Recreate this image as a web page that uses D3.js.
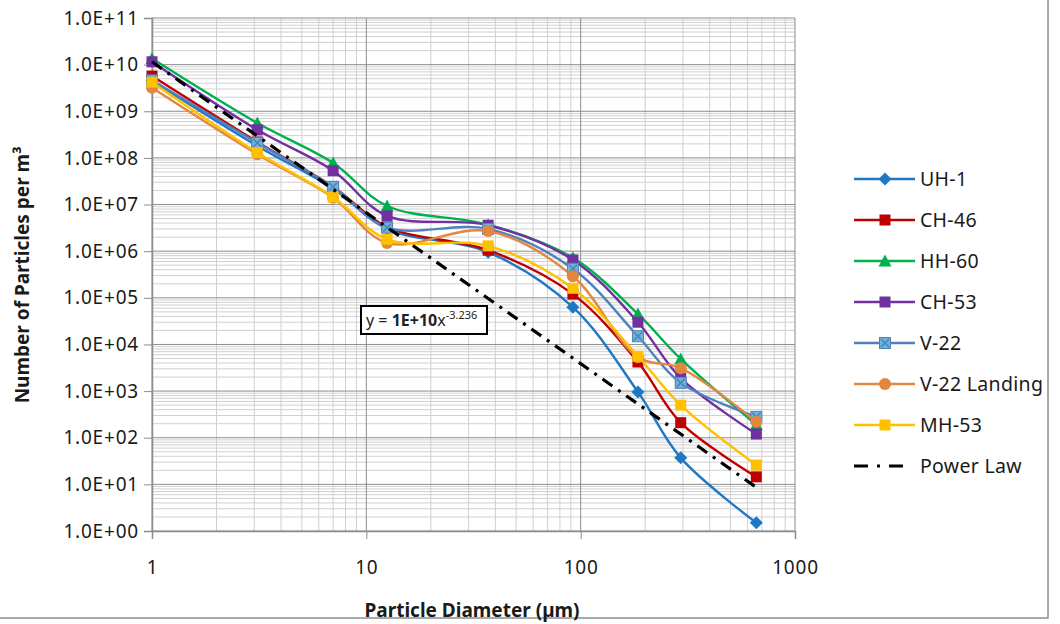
<!DOCTYPE html>
<html>
<head>
<meta charset="utf-8">
<script src="https://cdn.jsdelivr.net/npm/d3@7"></script>
<style>
  body { margin: 0; background: #fff; }
  svg { font-family: "Noto Sans", "Open Sans", sans-serif; }
</style>
</head>
<body>
<div id="chart"></div>
<script>
// particle diameters (um) where the samples were read
const diameters = [1.0, 3.1, 7.0, 12.5, 37, 92, 185, 293, 660];

// number of particles per m3, one array per aircraft
const uh1      = [4.5e9, 1.8e8, 2.2e7, 3.0e6, 0.95e6, 6.3e4, 9.6e2, 37, 1.5];
const ch46     = [5.7e9, 2.2e8, 2.4e7, 3.3e6, 1.05e6, 1.2e5, 4.2e3, 2.1e2, 14.5];
const hh60     = [1.35e10, 5.6e8, 7.8e7, 9.3e6, 3.7e6, 7.2e5, 4.5e4, 4.9e3, 1.9e2];
const ch53     = [1.15e10, 4.0e8, 5.3e7, 5.7e6, 3.6e6, 6.5e5, 3.0e4, 1.9e3, 1.2e2];
const v22      = [4.6e9, 2.1e8, 2.4e7, 3.2e6, 3.0e6, 4.2e5, 1.5e4, 1.5e3, 2.8e2];
const v22land  = [3.2e9, 1.2e8, 1.4e7, 1.5e6, 2.7e6, 2.9e5, 5.3e3, 3.1e3, 2.2e2];
const mh53     = [4.2e9, 1.3e8, 1.45e7, 1.8e6, 1.3e6, 1.6e5, 5.6e3, 5.0e2, 26];

const seriesNames = ["UH-1", "CH-46", "HH-60", "CH-53", "V-22", "V-22 Landing", "MH-53"];
const seriesValues = [uh1, ch46, hh60, ch53, v22, v22land, mh53];

// power law trendline (label shows it rounded: y = 1E+10 x^-3.236)
const powerCoef = 1.15e10;
const powerExp = -3.236;

const xTickLabels = [1, 10, 100, 1000];
const yTickExps = d3.range(0, 12);

const colors = ["#1f78c4", "#c00000", "#00b050", "#7030a0", "#4f81bd", "#e3873f", "#ffc000"];
const markers = ["diamond", "square", "triangle", "square", "squarex", "circle", "square"];

var margin = {top: 18, left: 152},
  width = 643,
  height = 513;

var svg = d3.select("#chart")
  .append("svg")
  .attr("width", 1060)
  .attr("height", 624);

// chart frame
svg.append("rect")
  .attr("x", -2).attr("y", -2)
  .attr("width", 1050).attr("height", 620)
  .attr("fill", "none")
  .attr("stroke", "#8c8c8c")
  .attr("stroke-width", 1.5);

var g = svg.append("g")
  .attr("transform", "translate(" + margin.left + "," + margin.top + ")");

var x = d3.scaleLog().domain([1, 1000]).range([0, width]);
var y = d3.scaleLog().domain([1, 1e11]).range([height, 0]);

// minor gridlines
var xMinor = [], yMinor = [];
for (let e = 0; e < 3; e++) for (let k = 2; k < 10; k++) xMinor.push(k * 10 ** e);
for (let e = 0; e < 11; e++) for (let k = 2; k < 10; k++) yMinor.push(k * 10 ** e);

g.selectAll(".xminor").data(xMinor).enter().append("line")
  .attr("x1", d => x(d)).attr("x2", d => x(d))
  .attr("y1", 0).attr("y2", height)
  .attr("stroke", "#d0d0d0").attr("stroke-width", 1);

g.selectAll(".yminor").data(yMinor).enter().append("line")
  .attr("x1", 0).attr("x2", width)
  .attr("y1", d => y(d)).attr("y2", d => y(d))
  .attr("stroke", "#d0d0d0").attr("stroke-width", 1);

// major gridlines
g.selectAll(".xmajor").data(xTickLabels).enter().append("line")
  .attr("x1", d => x(d)).attr("x2", d => x(d))
  .attr("y1", 0).attr("y2", height)
  .attr("stroke", "#8c8c8c").attr("stroke-width", 1);

g.selectAll(".ymajor").data(yTickExps).enter().append("line")
  .attr("x1", 0).attr("x2", width)
  .attr("y1", d => y(10 ** d)).attr("y2", d => y(10 ** d))
  .attr("stroke", "#8c8c8c").attr("stroke-width", 1);

// axes
var yAxis = d3.axisLeft(y)
  .tickValues(yTickExps.map(d => 10 ** d))
  .tickSize(8)
  .tickPadding(5)
  .tickFormat(d => "1.0E+" + String(Math.round(Math.log10(d))).padStart(2, "0"));

var xAxis = d3.axisBottom(x)
  .tickValues(xTickLabels)
  .tickSize(8)
  .tickPadding(22)
  .tickFormat(d3.format("d"));

var ya = g.append("g").call(yAxis);
var xa = g.append("g").attr("transform", "translate(0," + height + ")").call(xAxis);
[ya, xa].forEach(a => {
  a.select(".domain").attr("stroke", "#8c8c8c").attr("stroke-width", 1.5);
  a.selectAll(".tick line").attr("stroke", "#8c8c8c");
  a.selectAll("text").attr("font-size", 19).attr("fill", "#1a1a1a")
    .attr("letter-spacing", "0.8px")
    .attr("font-family", "'Noto Sans', sans-serif");
});

// series lines
var line = d3.line()
  .x(d => x(d[0]))
  .y(d => y(d[1]))
  .curve(d3.curveCatmullRom.alpha(0.5));

function drawMarker(sel, type, color, cx, cy) {
  if (type === "diamond") {
    sel.append("path")
      .attr("d", `M${cx},${cy - 6.5}L${cx + 6.5},${cy}L${cx},${cy + 6.5}L${cx - 6.5},${cy}Z`)
      .attr("fill", color);
  } else if (type === "square") {
    sel.append("rect")
      .attr("x", cx - 5.5).attr("y", cy - 5.5).attr("width", 11).attr("height", 11)
      .attr("fill", color);
  } else if (type === "triangle") {
    sel.append("path")
      .attr("d", `M${cx},${cy - 6.5}L${cx + 6.5},${cy + 5.5}L${cx - 6.5},${cy + 5.5}Z`)
      .attr("fill", color);
  } else if (type === "circle") {
    sel.append("circle").attr("cx", cx).attr("cy", cy).attr("r", 6)
      .attr("fill", color);
  } else if (type === "squarex") {
    sel.append("rect")
      .attr("x", cx - 5.5).attr("y", cy - 5.5).attr("width", 11).attr("height", 11)
      .attr("fill", "#6fb3d6").attr("stroke", color).attr("stroke-width", 1);
    sel.append("path")
      .attr("d", `M${cx - 4},${cy - 4}L${cx + 4},${cy + 4}M${cx + 4},${cy - 4}L${cx - 4},${cy + 4}`)
      .attr("stroke", color).attr("stroke-width", 1.5);
  }
}

seriesValues.forEach((vals, i) => {
  var pts = diameters.map((d, j) => [d, vals[j]]);
  var sg = g.append("g");
  sg.append("path")
    .attr("d", line(pts))
    .attr("fill", "none")
    .attr("stroke", colors[i])
    .attr("stroke-width", 2.4);
  pts.forEach(p => drawMarker(sg, markers[i], colors[i], x(p[0]), y(p[1])));
});

// power law trendline
var plEnds = [diameters[0], diameters[diameters.length - 1]];
g.append("path")
  .attr("d", d3.line().x(d => x(d)).y(d => y(powerCoef * Math.pow(d, powerExp)))(plEnds))
  .attr("fill", "none")
  .attr("stroke", "#000")
  .attr("stroke-width", 3.2)
  .attr("stroke-dasharray", "12,7,3,7");

// equation box
var eq = svg.append("g").attr("transform", "translate(361,306)");
eq.append("rect").attr("width", 126).attr("height", 28)
  .attr("fill", "#fff").attr("stroke", "#000").attr("stroke-width", 2);
var eqt = eq.append("text").attr("x", 5).attr("y", 20).attr("font-size", 16).attr("fill", "#222");
eqt.append("tspan").text("y = ");
eqt.append("tspan").attr("font-weight", "bold").text("1E+10");
eqt.append("tspan").text("x");
eqt.append("tspan").attr("font-size", 11).attr("dy", -7).text("-3.236");

// axis titles
svg.append("text")
  .attr("x", 472).attr("y", 617)
  .attr("text-anchor", "middle")
  .attr("font-size", 19).attr("font-weight", "bold").attr("fill", "#1a1a1a")
  .text("Particle Diameter (µm)");

svg.append("text")
  .attr("transform", "translate(29,275) rotate(-90)")
  .attr("text-anchor", "middle")
  .attr("font-size", 19).attr("font-weight", "bold").attr("fill", "#1a1a1a")
  .text("Number of Particles per m³");

// legend
var legend = svg.append("g").attr("transform", "translate(854,179)");
seriesNames.concat(["Power Law"]).forEach((name, i) => {
  var lg = legend.append("g").attr("transform", "translate(0," + (i * 41) + ")");
  if (i < seriesNames.length) {
    lg.append("line").attr("x1", 0).attr("x2", 61).attr("y1", 0).attr("y2", 0)
      .attr("stroke", colors[i]).attr("stroke-width", 2.4);
    drawMarker(lg, markers[i], colors[i], 31, 0);
  } else {
    lg.append("line").attr("x1", 0).attr("x2", 52).attr("y1", 0).attr("y2", 0)
      .attr("stroke", "#000").attr("stroke-width", 3.2)
      .attr("stroke-dasharray", "14,9,3,9");
  }
  lg.append("text").attr("x", 66).attr("y", 0).attr("dy", "0.35em")
    .attr("font-size", 19.5).attr("fill", "#1a1a1a")
    .attr("letter-spacing", "0.3px")
    .text(name);
});
</script>
</body>
</html>
